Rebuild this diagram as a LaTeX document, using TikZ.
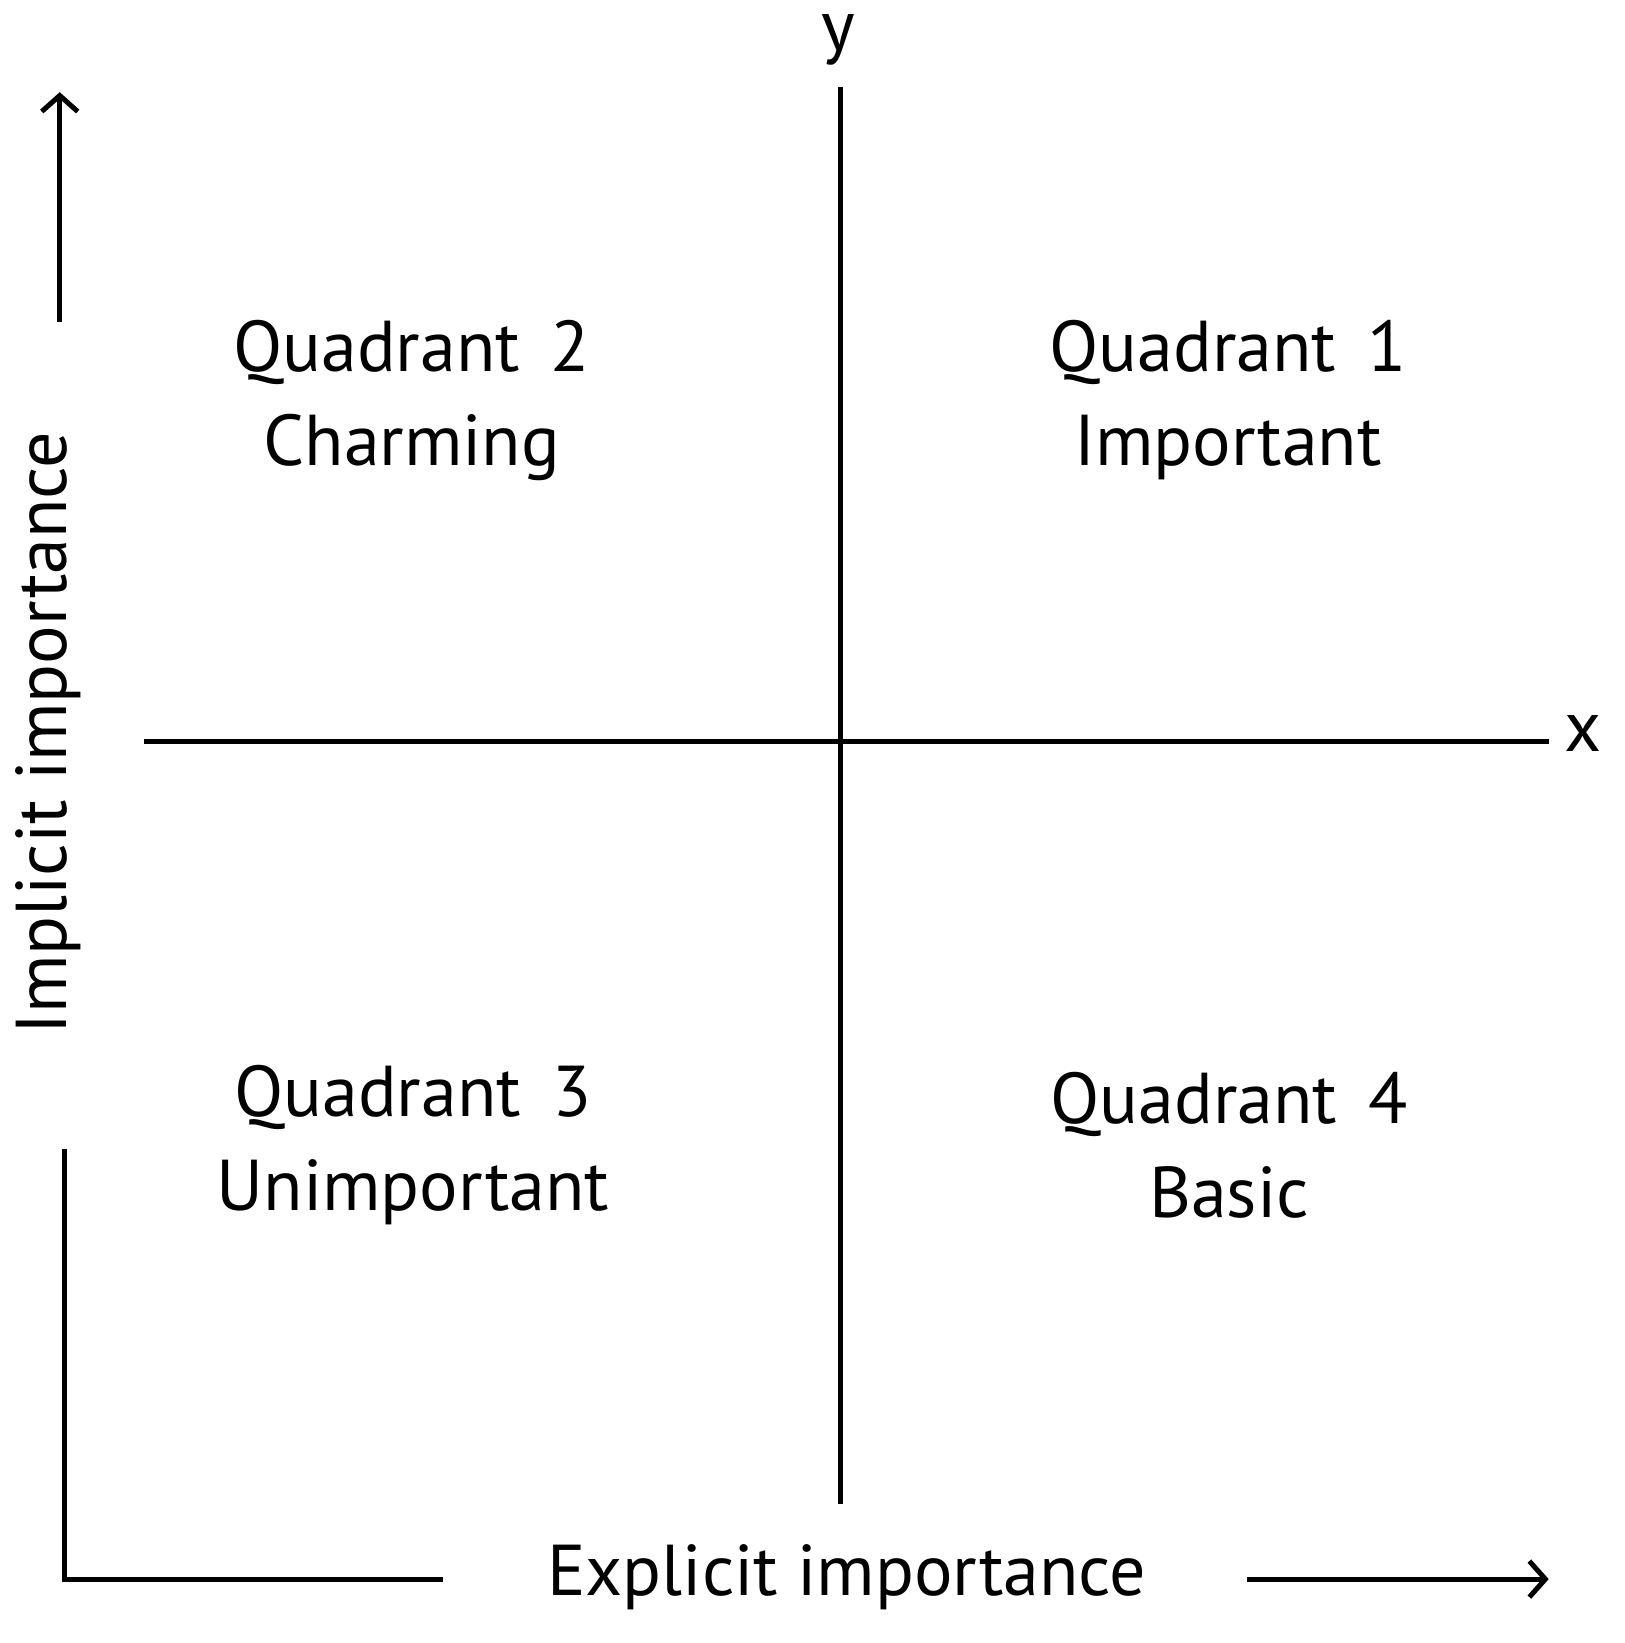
\documentclass[tikz,border=0pt]{standalone}
\usepackage{fontspec}
\setmainfont{PT Sans}
\usetikzlibrary{arrows.meta}
\begin{document}
\begin{tikzpicture}[x=1.048pt,y=-1.048pt,
  ln/.style={line width=5pt},
  arr/.style={line width=5pt,-{Straight Barb[length=16pt,width=36pt,line width=5pt]}},
  lbl/.style={font=\fontsize{72}{86}\selectfont,align=center,inner sep=0pt}]
\useasboundingbox (0,0) rectangle (1550,1568);
\fill[white] (0,0) rectangle (1550,1568);
\coordinate (yt) at (802,83); \coordinate (yb) at (802,1435);
\coordinate (xl) at (137,708); \coordinate (xr) at (1478,708);
\draw[ln] (yt) -- (yb);
\draw[ln] (xl) -- (xr);
\node[lbl] (ylab) at (800,38) {y};
\node[lbl] (xlab) at (1511,700) {x};
\coordinate (la) at (57,307); \coordinate (lb) at (57,88);
\draw[arr] (la) -- (lb);
\node[lbl,rotate=90] (impl) at (46,700) {Implicit importance};
\coordinate (c1) at (62,1097); \coordinate (c2) at (62,1507); \coordinate (c3) at (423,1507);
\draw[ln] (c1) -- (c2) -- (c3);
\node[lbl] (expl) at (808,1505) {Explicit importance};
\coordinate (ba) at (1190,1507); \coordinate (bb) at (1478,1507);
\draw[arr] (ba) -- (bb);
\node[lbl] (q2) at (393,382) {Quadrant\, 2\\[8pt]Charming};
\node[lbl] (q1) at (1172,382) {Quadrant\, 1\\[8pt]Important};
\node[lbl] (q3) at (394,1093) {Quadrant\, 3\\[8pt]Unimportant};
\node[lbl] (q4) at (1173,1093) {Quadrant\, 4\\[8pt]Basic};
\end{tikzpicture}
\end{document}
